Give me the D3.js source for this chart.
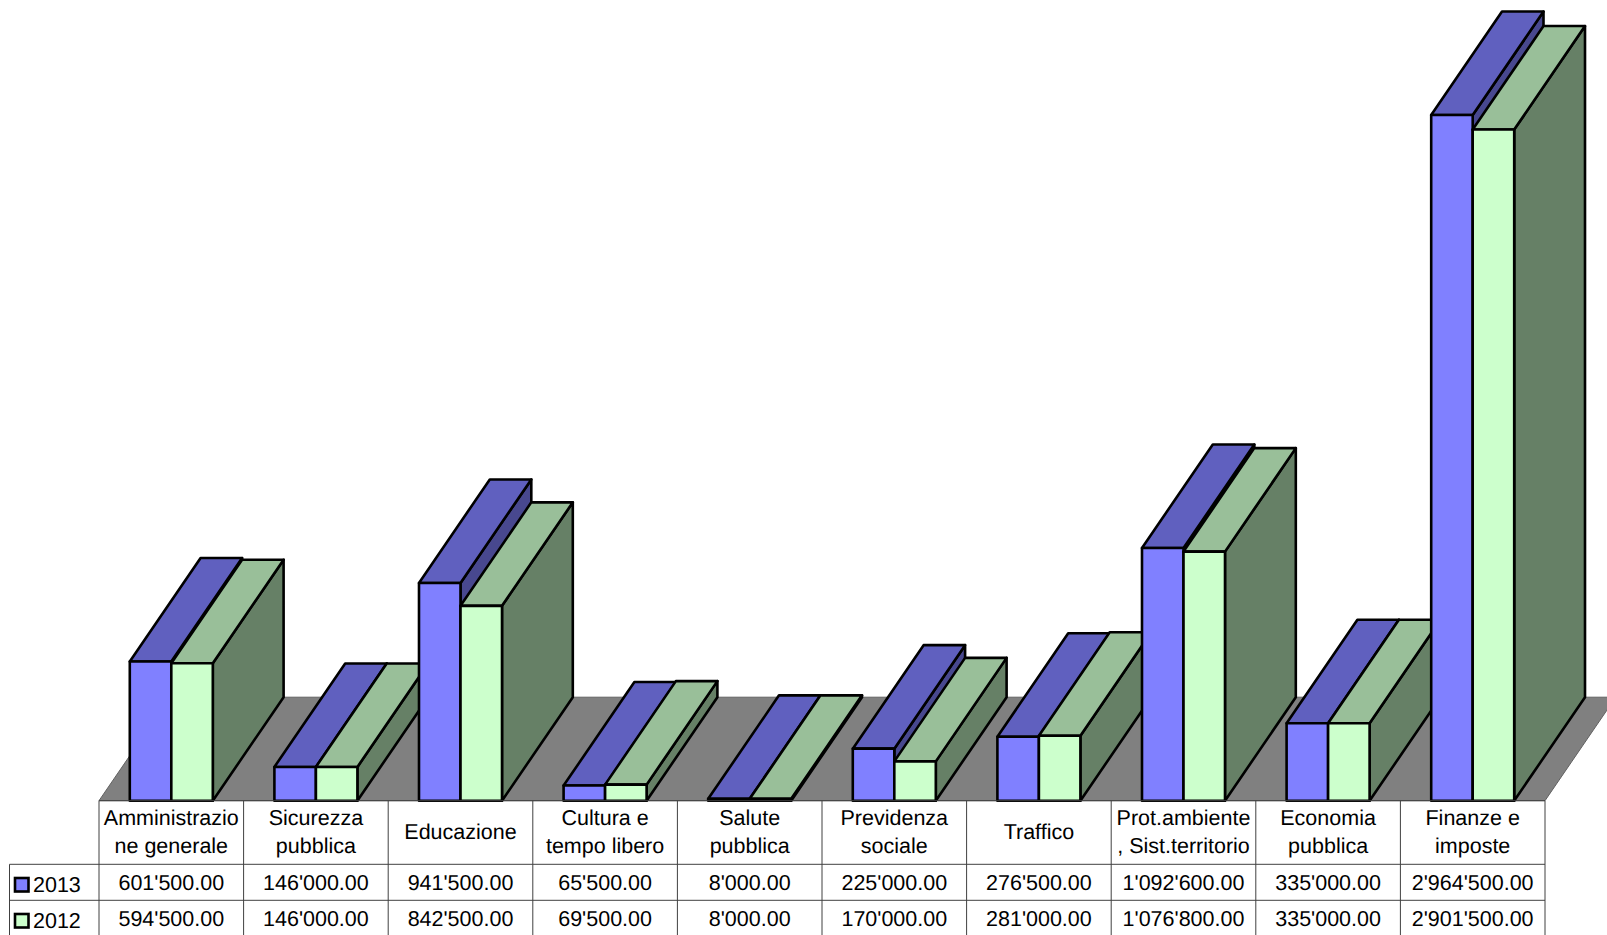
<!DOCTYPE html>
<html>
<head>
<meta charset="utf-8">
<script src="https://cdn.jsdelivr.net/npm/d3@7"></script>
<style>
  html, body { margin: 0; padding: 0; background: #fff; overflow: hidden; }
  svg { display: block; }
  text { font-family: "Liberation Sans", Arial, sans-serif; font-size: 21.5px; fill: #000; text-rendering: geometricPrecision; }
</style>
</head>
<body>
<svg id="chart" width="1607" height="935"></svg>
<script>
const categories = [
  ["Amministrazio", "ne generale"],
  ["Sicurezza", "pubblica"],
  ["Educazione"],
  ["Cultura e", "tempo libero"],
  ["Salute", "pubblica"],
  ["Previdenza", "sociale"],
  ["Traffico"],
  ["Prot.ambiente", ", Sist.territorio"],
  ["Economia", "pubblica"],
  ["Finanze e", "imposte"]
];
const seriesNames = ["2013", "2012"];
const values2013 = [601500, 146000, 941500, 65500, 8000, 225000, 276500, 1092600, 335000, 2964500];
const values2012 = [594500, 146000, 842500, 69500, 8000, 170000, 281000, 1076800, 335000, 2901500];
const seriesValues = [values2013, values2012];
const frontColors = ["#8080ff", "#ccffcc"];
const topColors = ["#6060bf", "#99bf99"];
const sideColors = ["#48488f", "#668066"];

const depth = { x: 70.8, y: -103.5 };
const tableLeft = 99, tableRight = 1545, legendLeft = 9.5;
const rowLines = [800.7, 864.3, 900.3, 936];

const svg = d3.select("#chart");
const fmt = d3.formatLocale({ decimal: ".", thousands: "'", grouping: [3], currency: ["", ""] }).format(",.2f");

const x = d3.scaleBand().domain(d3.range(categories.length)).range([tableLeft, tableRight]);
const xSeries = d3.scaleBand().domain(d3.range(seriesNames.length)).range([0, x.bandwidth()])
  .paddingInner(0).paddingOuter(0.742);
const y = d3.scaleLinear().domain([0, d3.max(values2013)]).range([rowLines[0], 115]);

const poly = pts => pts.map(p => p.join(",")).join(" ");

// floor
svg.append("polygon")
  .attr("points", poly([
    [tableLeft, y(0)],
    [tableRight, y(0)],
    [tableRight + depth.x, y(0) + depth.y],
    [tableLeft + depth.x, y(0) + depth.y]
  ]))
  .attr("fill", "#808080")
  .attr("stroke", "#606060")
  .attr("stroke-width", 1);

// bars, left to right so that later ones cover earlier ones
categories.forEach((c, i) => {
  seriesNames.forEach((s, j) => {
    const x0 = x(i) + xSeries(j), x1 = x0 + xSeries.bandwidth();
    const y0 = y(0), y1 = y(seriesValues[j][i]);
    const g = svg.append("g")
      .attr("stroke", "#000")
      .attr("stroke-width", 2.6)
      .attr("stroke-linejoin", "round");
    g.append("polygon")
      .attr("points", poly([[x1, y0], [x1 + depth.x, y0 + depth.y], [x1 + depth.x, y1 + depth.y], [x1, y1]]))
      .attr("fill", sideColors[j]);
    g.append("polygon")
      .attr("points", poly([[x0, y1], [x1, y1], [x1 + depth.x, y1 + depth.y], [x0 + depth.x, y1 + depth.y]]))
      .attr("fill", topColors[j]);
    g.append("rect")
      .attr("x", x0).attr("y", y1)
      .attr("width", x1 - x0).attr("height", y0 - y1)
      .attr("fill", frontColors[j]);
  });
});

// data table
const grid = svg.append("g").attr("stroke", "#404040").attr("stroke-width", 1);
x.domain().concat(categories.length).forEach(i => {
  const xp = i < categories.length ? x(i) : tableRight;
  grid.append("line").attr("x1", xp).attr("x2", xp).attr("y1", rowLines[0]).attr("y2", 935);
});
grid.append("line").attr("x1", legendLeft).attr("x2", legendLeft).attr("y1", rowLines[1]).attr("y2", 935);
grid.append("line").attr("x1", tableLeft).attr("x2", tableRight).attr("y1", rowLines[0]).attr("y2", rowLines[0]);
grid.append("line").attr("x1", legendLeft).attr("x2", tableRight).attr("y1", rowLines[1]).attr("y2", rowLines[1]);
grid.append("line").attr("x1", legendLeft).attr("x2", tableRight).attr("y1", rowLines[2]).attr("y2", rowLines[2]);

categories.forEach((lines, i) => {
  const cx = x(i) + x.bandwidth() / 2;
  const first = lines.length > 1 ? 825 : 839;
  lines.forEach((line, k) => {
    svg.append("text").attr("x", cx).attr("y", first + k * 28)
      .attr("text-anchor", "middle").text(line);
  });
  seriesValues.forEach((vals, j) => {
    svg.append("text").attr("x", cx).attr("y", 890 + j * 36)
      .attr("text-anchor", "middle").text(fmt(vals[i]));
  });
});

// legend keys in the first table column
seriesNames.forEach((s, j) => {
  const top = 878 + j * 36;
  svg.append("rect").attr("x", 15).attr("y", top).attr("width", 13.5).attr("height", 13.5)
    .attr("fill", frontColors[j]).attr("stroke", "#000").attr("stroke-width", 2.6);
  svg.append("text").attr("x", 33).attr("y", 892 + j * 36).text(s);
});
</script>
</body>
</html>
